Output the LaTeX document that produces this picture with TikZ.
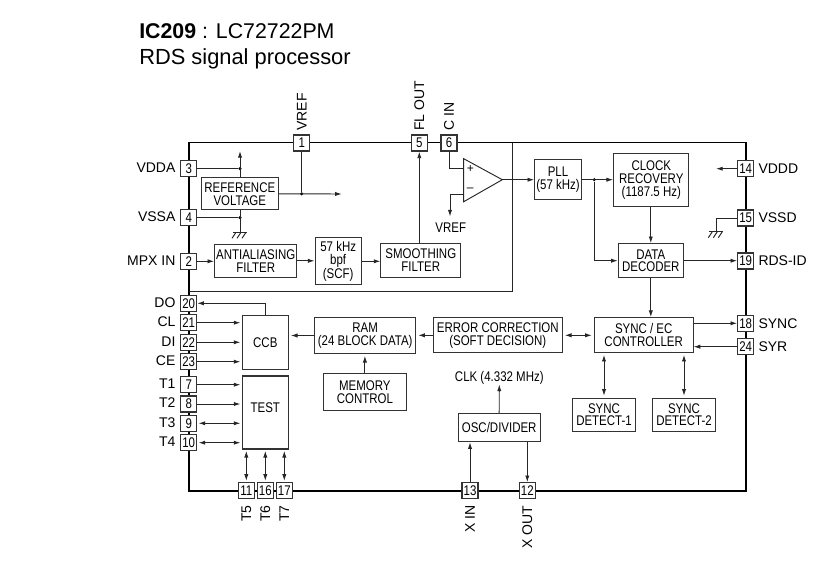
\documentclass[tikz,border=0pt]{standalone}
\usepackage{fontspec}
\setmainfont{Liberation Sans}
\newfontfamily\boxfont[FakeStretch=0.82]{Liberation Sans}
\usetikzlibrary{calc,arrows.meta}
\tikzset{
  chip/.style={draw=black, line width=1.25pt},
  inner/.style={draw=black!85, line width=0.7pt},
  block/.style={draw=black!80, line width=0.8pt, fill=white, inner sep=0pt, align=center, font=\boxfont\fontsize{10.5}{9.6}\selectfont},
  bx/.style 2 args={minimum width=#1*0.75pt, minimum height=#2*0.75pt},
  pinbox/.style={draw=black!80, line width=0.8pt, fill=white, inner sep=0pt, minimum size=12pt, font=\boxfont\fontsize{10.5}{10}\selectfont},
  pinname/.style={inner sep=0pt, font=\fontsize{10.5}{11}\selectfont},
  note/.style={inner sep=0pt, font=\boxfont\fontsize{10.5}{10}\selectfont},
  title/.style={inner sep=0pt, anchor=west, font=\fontsize{16}{18}\selectfont},
  line/.style={draw=black!85, line width=0.7pt},
  sig/.style={line, -{Latex[length=5pt,width=3.2pt]}},
  both/.style={line, {Latex[length=5pt,width=3.2pt]}-{Latex[length=5pt,width=3.2pt]}},
  dot/.style={circle, fill=black, inner sep=0pt, minimum size=2.6pt}
}

\begin{document}
\begin{tikzpicture}[x=0.75pt, y=-0.75pt]
  \useasboundingbox (0,0) rectangle (827,585);
  \node[title] (ttla) at (139,31) {\textbf{IC209} : LC72722PM};
  \node[title, font=\fontsize{16.4}{18}\selectfont] (ttlb) at (139,59) {RDS signal processor};
  % chip outline
  \draw[chip] (188.7,142.5) rectangle (746,490.7);
  \draw[inner] (188.7,291) -- (512,291) -- (512,142.5);
  % pins
  \foreach \n/\y in {3/168.7,4/217.7,2/261.3,20/303.3,21/322.7,22/342.3,23/361.7,7/384.7,8/404,9/423.3,10/442.7}
    \node[pinbox] (p\n) at (188.7,\y) {\n};
  \foreach \n/\y in {14/168.7,15/218,19/261,18/323.3,24/346.7}
    \node[pinbox] (p\n) at (745.7,\y) {\n};
  \foreach \n/\x in {1/301.7,5/419.3,6/449}
    \node[pinbox] (p\n) at (\x,143) {\n};
  \foreach \n/\x in {11/246.3,16/265.3,17/284.3,13/470,12/527.3}
    \node[pinbox] (p\n) at (\x,490.7) {\n};
  % pin names
  \foreach \n/\t in {3/VDDA,4/VSSA,2/MPX IN,20/DO,21/CL,22/DI,23/CE,7/T1,8/T2,9/T3,10/T4}
    \node[pinname, anchor=east] (n\n) at ($(p\n.west)+(-4.5,-1)$) {\t};
  \foreach \n/\t in {14/VDDD,15/VSSD,19/RDS-ID,18/SYNC,24/SYR}
    \node[pinname, anchor=west] (n\n) at ($(p\n.east)+(4,0)$) {\t};
  \foreach \n/\t in {1/VREF,5/FL OUT,6/C IN}
    \node[pinname, rotate=90, anchor=west] (n\n) at ($(p\n.north)+(0,-3.5)$) {\t};
  \foreach \n/\t in {11/T5,16/T6,17/T7,13/X IN,12/X OUT}
    \node[pinname, rotate=90, anchor=east] (n\n) at ($(p\n.south)+(0,6)$) {\t};
  % blocks
  \node[block, bx={77}{32.3}] (ref) at (239.8,193.8) {REFERENCE\\VOLTAGE};
  \node[block, bx={82}{33}] (anti) at (255.7,260.8) {ANTIALIASING\\FILTER};
  \node[block, bx={46.3}{46.7}] (bpf) at (338.2,261.3) {57 kHz\\bpf\\(SCF)};
  \node[block, bx={79.7}{33.6}] (smooth) at (420.8,260.5) {SMOOTHING\\FILTER};
  \node[block, bx={46.6}{39.6}] (pll) at (558,179.5) {PLL\\(57 kHz)};
  \node[block, bx={75.3}{52.7}] (clock) at (651.3,180.3) {CLOCK\\RECOVERY\\(1187.5 Hz)};
  \node[block, bx={65}{34}] (data) at (650.8,260.7) {DATA\\DECODER};
  \node[block, bx={46}{53.7}] (ccb) at (265.3,342.2) {CCB};
  \node[block, bx={46}{73}] (test) at (265.3,412.5) {};
  \node[note] (testname) at (265.3,408) {TEST};
  \node[block, bx={101}{35.6}] (ram) at (365.2,335.5) {RAM\\(24 BLOCK DATA)};
  \node[block, bx={82.3}{37}] (mem) at (364.9,392.2) {MEMORY\\CONTROL};
  \node[block, bx={129}{35.3}] (err) at (497.8,335.3) {ERROR CORRECTION\\(SOFT DECISION)};
  \node[block, bx={98.7}{35.3}] (sync) at (643.7,335.3) {SYNC / EC\\CONTROLLER};
  \node[block, bx={63.4}{32.7}] (det1) at (604,414.7) {SYNC\\DETECT-1};
  \node[block, bx={63.4}{32.7}] (det2) at (684,414.7) {SYNC\\DETECT-2};
  \node[block, bx={82.3}{28.4}] (osc) at (499.2,427.5) {OSC/DIVIDER};
  % comparator
  \coordinate (ampa) at (463.7,158.7);
  \coordinate (ampb) at (463.7,201.7);
  \coordinate (ampo) at (502.3,179.7);
  \draw[line] (ampa) -- (ampo) -- (ampb) -- cycle;
  \node[inner sep=0pt, font=\fontsize{9}{9}\selectfont] (plus) at (470.3,169.3) {+};
  \node[inner sep=0pt, font=\fontsize{9}{9}\selectfont] (minus) at (470.3,189.3) {--};
  \node[note] (vrefb) at (450.7,228) {VREF};
  \node[note] (clk) at (499.3,377.7) {CLK (4.332 MHz)};
  % junctions
  \node[dot] (d3) at (240,168.7) {};
  \node[dot] (d4) at (240,217.7) {};
  \node[dot] (d1) at (p1 |- ref.east) {};
  \node[dot] (dp) at (594.3,179.7) {};
  % free ends
  \coordinate (vddatip) at (240,151);
  \coordinate (gnda) at (240,232.3);
  \coordinate (gndd) at (716.3,231.7);
  \coordinate (reftip) at (341.7,194);
  \coordinate (vddtip) at (716,168.7);
  \coordinate (cornd) at (716.3,218);
  \coordinate (inp) at (449,168.7);
  \coordinate (inm) at (450,194.3);
  \coordinate (vreftip) at (450,216.5);
  % analog part
  \draw[line] (p3.east) -- (d3);
  \draw[line] (p4.east) -- (d4);
  \draw[sig] (ref.north -| d3) -- (vddatip);
  \draw[line] (ref.south -| d4) -- (gnda);
  \draw[sig] (ref.east) -- (reftip);
  \draw[line] (p1.south) -- (d1);
  \draw[sig] (p2.east) -- (p2.east -| anti.west);
  \draw[sig] (anti.east) -- (anti.east -| bpf.west);
  \draw[sig] (bpf.east) -- (bpf.east -| smooth.west);
  \draw[sig] (smooth.north -| p5) -- (p5.south);
  \draw[line] (p6.south) -- (inp) -- (inp -| ampa);
  \draw[sig] (inm -| ampa) -- (inm) -- (vreftip);
  % ground marks
  \foreach \g in {gnda,gndd}{
    \draw[line] ($(\g)+(-7,0)$) -- ($(\g)+(7,0)$);
    \foreach \d in {-5,0,5}
      \draw[line] ($(\g)+(\d+1,0)$) -- ($(\g)+(\d-3,6)$);
  }
  % digital part
  \draw[sig] (ampo) -- (ampo -| pll.west);
  \draw[sig] (pll.east |- dp) -- (dp -| clock.west);
  \draw[sig] (dp) |- (data.west);
  \draw[sig] (clock.south -| data) -- (data.north);
  \draw[sig] (data.east) -- (data.east -| p19.west);
  \draw[sig] (data.south) -- (sync.north -| data);
  \draw[sig] (p14.west) -- (vddtip);
  \draw[line] (p15.west) -- (cornd) -- (gndd);
  \draw[sig] (p18.west -| sync.east) -- (p18.west);
  \draw[sig] (p24.west) -- (p24.west -| sync.east);
  \draw[both, shorten <=1.5pt, shorten >=1.5pt] (err.east) -- (err.east -| sync.west);
  \draw[sig, shorten >=1.5pt] (err.west) -- (err.west -| ram.east);
  \draw[sig, shorten >=1.5pt] (ram.west) -- (ram.west -| ccb.east);
  \draw[sig, shorten >=1.5pt] (mem.north) -- (ram.south -| mem);
  \draw[both, shorten <=1.5pt, shorten >=1pt] (det1.north) -- (det1.north |- sync.south);
  \draw[both, shorten <=1.5pt, shorten >=1pt] (det2.north) -- (det2.north |- sync.south);
  \draw[sig] (osc.north) -- (clk.south);
  \draw[sig] (p13.north) -- (p13.north |- osc.south);
  \draw[sig] (p12.north |- osc.south) -- (p12.north);
  % serial bus and test pins
  \draw[sig] (ccb.north) |- (p20.east);
  \foreach \n in {21,22,23}
    \draw[sig, shorten >=1pt] (p\n.east) -- (p\n.east -| ccb.west);
  \foreach \n in {7,8}
    \draw[sig, shorten >=1pt] (p\n.east) -- (p\n.east -| test.west);
  \foreach \n in {9,10}
    \draw[both, shorten <=1pt, shorten >=1pt] (p\n.east) -- (p\n.east -| test.west);
  \foreach \n in {11,16,17}
    \draw[both, shorten <=1pt, shorten >=1pt] (p\n.north) -- (p\n.north |- test.south);
\end{tikzpicture}
\end{document}
